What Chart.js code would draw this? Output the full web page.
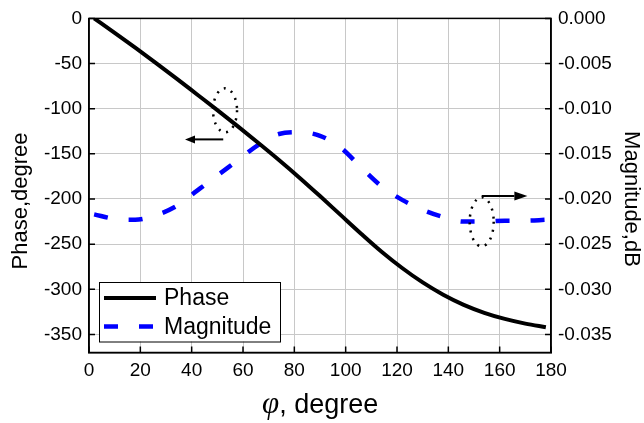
<!DOCTYPE html>
<html>
<head>
<meta charset="utf-8">
<script src="https://cdn.jsdelivr.net/npm/chart.js@4"></script>
<style>
  body { margin: 0; background: #fff; }
  #wrap { width: 644px; height: 423px; }
</style>
</head>
<body>
<div id="wrap"><canvas id="chart" width="644" height="423"></canvas></div>
<script>
const angle = [2, 10, 18, 26, 34, 42, 50, 58, 66, 74, 82, 90, 98, 106, 114, 122, 130, 138, 146, 154, 162, 170, 178];
const phase = [0, -16, -32.4, -49.2, -66.4, -84, -101.6, -119.6, -138, -156.8, -176.4, -196.8, -217.6, -238.4, -258.4, -276.4, -292.4, -306, -317.2, -326, -332.8, -338, -342];
const magnitude = [-0.0217, -0.0222, -0.0223, -0.0218, -0.0208, -0.0191, -0.0174, -0.0157, -0.0140, -0.0128, -0.0126, -0.0130, -0.0143, -0.0165, -0.0186, -0.0201, -0.0212, -0.0220, -0.0225, -0.0225, -0.0224, -0.0224, -0.0223];
const xTicks = [0, 20, 40, 60, 80, 100, 120, 140, 160, 180];
const phaseTicks = [0, -50, -100, -150, -200, -250, -300, -350];
const magTicks = [0, -0.005, -0.010, -0.015, -0.020, -0.025, -0.030, -0.035];

const FONT = "'Liberation Sans', Arial, sans-serif";
const GRID = "#c8c8c8";

function setTicks(list) {
  return s => { s.ticks = list.map(v => ({ value: v })); };
}

// frame, inward ticks, titles, legend and the two marker notes
const extras = {
  id: "extras",
  afterDraw(chart) {
    const ctx = chart.ctx;
    const a = chart.chartArea;
    const sx = chart.scales.x, sy = chart.scales.y, sy1 = chart.scales.y1;
    ctx.save();

    ctx.strokeStyle = "#000";
    ctx.lineWidth = 1.5;
    ctx.strokeRect(a.left, a.top, a.right - a.left, a.bottom - a.top);

    ctx.beginPath();
    xTicks.forEach(v => { const p = sx.getPixelForValue(v); ctx.moveTo(p, a.bottom); ctx.lineTo(p, a.bottom - 6); });
    phaseTicks.forEach(v => { const p = sy.getPixelForValue(v); ctx.moveTo(a.left, p); ctx.lineTo(a.left + 6, p); });
    magTicks.forEach(v => { const p = sy1.getPixelForValue(v); ctx.moveTo(a.right, p); ctx.lineTo(a.right - 6, p); });
    ctx.stroke();

    // axis titles
    ctx.fillStyle = "#000";
    ctx.textAlign = "center";
    ctx.textBaseline = "alphabetic";
    ctx.font = "22px " + FONT;
    ctx.save();
    ctx.translate(27, 201);
    ctx.rotate(-Math.PI / 2);
    ctx.fillText("Phase,degree", 0, 0);
    ctx.restore();
    ctx.save();
    ctx.translate(625, 199);
    ctx.rotate(Math.PI / 2);
    ctx.fillText("Magnitude,dB", 0, 0);
    ctx.restore();

    ctx.textAlign = "left";
    ctx.font = "italic 31px 'Liberation Serif', 'DejaVu Serif', serif";
    ctx.fillText("\u03C6", 262, 413);
    const phiW = ctx.measureText("\u03C6").width;
    ctx.font = "27px " + FONT;
    ctx.fillText(", degree", 262 + phiW, 413);

    // legend
    const lx = a.left + 10, ly = a.bottom - 70.5;
    ctx.fillStyle = "#fff";
    ctx.fillRect(lx, ly, 181, 59.5);
    ctx.lineWidth = 1;
    ctx.strokeStyle = "#000";
    ctx.strokeRect(lx + 0.5, ly + 0.5, 181, 59.5);
    const items = chart.data.datasets;
    [16, 44.5].forEach((dy, i) => {
      const ds = items[i];
      ctx.beginPath();
      ctx.strokeStyle = ds.borderColor;
      ctx.lineWidth = ds.borderWidth;
      ctx.setLineDash(ds.borderDash || []);
      ctx.moveTo(lx + 5, ly + dy);
      ctx.lineTo(lx + 57, ly + dy);
      ctx.stroke();
      ctx.setLineDash([]);
      ctx.fillStyle = "#000";
      ctx.font = "23px " + FONT;
      ctx.textBaseline = "middle";
      ctx.fillText(ds.label, lx + 65, ly + dy + 1);
    });

    // dotted ellipses and arrows
    function ellipse(cx, cy, rx, ry) {
      ctx.beginPath();
      ctx.setLineDash([2, 6]);
      ctx.lineWidth = 2.5;
      ctx.strokeStyle = "#000";
      ctx.ellipse(cx, cy, rx, ry, 0, 0, Math.PI * 2);
      ctx.stroke();
      ctx.setLineDash([]);
    }
    function arrow(x1, x2, y, head, half) {
      const dir = Math.sign(x2 - x1);
      ctx.beginPath();
      ctx.lineWidth = 2;
      ctx.strokeStyle = "#000";
      ctx.moveTo(x1, y);
      ctx.lineTo(x2 - dir * head, y);
      ctx.stroke();
      ctx.beginPath();
      ctx.fillStyle = "#000";
      ctx.moveTo(x2, y);
      ctx.lineTo(x2 - dir * head, y - half);
      ctx.lineTo(x2 - dir * head, y + half);
      ctx.closePath();
      ctx.fill();
    }
    ellipse(sx.getPixelForValue(53), sy.getPixelForValue(-101.8), 12, 22);
    arrow(sx.getPixelForValue(52.3), sx.getPixelForValue(37.4), sy.getPixelForValue(-134), 10, 4);
    ellipse(sx.getPixelForValue(153), sy1.getPixelForValue(-0.02253), 12, 24.5);
    arrow(sx.getPixelForValue(153), sx.getPixelForValue(170.8), sy1.getPixelForValue(-0.01966), 13, 4.5);

    ctx.restore();
  }
};

new Chart(document.getElementById("chart"), {
  type: "line",
  data: {
    datasets: [
      {
        label: "Phase",
        data: angle.map((x, i) => ({ x, y: phase[i] })),
        yAxisID: "y",
        borderColor: "#000",
        borderWidth: 4,
        pointRadius: 0,
        cubicInterpolationMode: "monotone"
      },
      {
        label: "Magnitude",
        data: angle.map((x, i) => ({ x, y: magnitude[i] })),
        yAxisID: "y1",
        borderColor: "#0000ff",
        borderWidth: 4.5,
        borderDash: [14, 21],
        pointRadius: 0,
        cubicInterpolationMode: "monotone"
      }
    ]
  },
  options: {
    responsive: false,
    devicePixelRatio: 1,
    animation: false,
    layout: { padding: { top: 18, left: 0, right: 0, bottom: 0 } },
    plugins: { legend: { display: false }, tooltip: { enabled: false } },
    scales: {
      x: {
        type: "linear",
        position: "bottom",
        min: 0,
        max: 180,
        afterBuildTicks: setTicks(xTicks),
        afterFit: s => { s.height = 70.5; },
        grid: { color: GRID, lineWidth: 1, drawTicks: false },
        border: { color: "#000", width: 1.5 },
        ticks: { color: "#000", font: { family: FONT, size: 19 }, padding: 7, maxRotation: 0 }
      },
      y: {
        type: "linear",
        position: "left",
        min: -370,
        max: 0,
        afterBuildTicks: setTicks(phaseTicks),
        afterFit: s => { s.width = 89; },
        grid: { color: GRID, lineWidth: 1, drawTicks: false },
        border: { color: "#000", width: 1.5 },
        ticks: { color: "#000", font: { family: FONT, size: 19 }, padding: 7 }
      },
      y1: {
        type: "linear",
        position: "right",
        min: -0.037,
        max: 0,
        afterBuildTicks: setTicks(magTicks),
        afterFit: s => { s.width = 93; },
        grid: { drawOnChartArea: false, drawTicks: false },
        border: { color: "#000", width: 1.5 },
        ticks: { color: "#000", font: { family: FONT, size: 19 }, padding: 7, callback: v => v.toFixed(3) }
      }
    }
  },
  plugins: [extras]
});
</script>
</body>
</html>
